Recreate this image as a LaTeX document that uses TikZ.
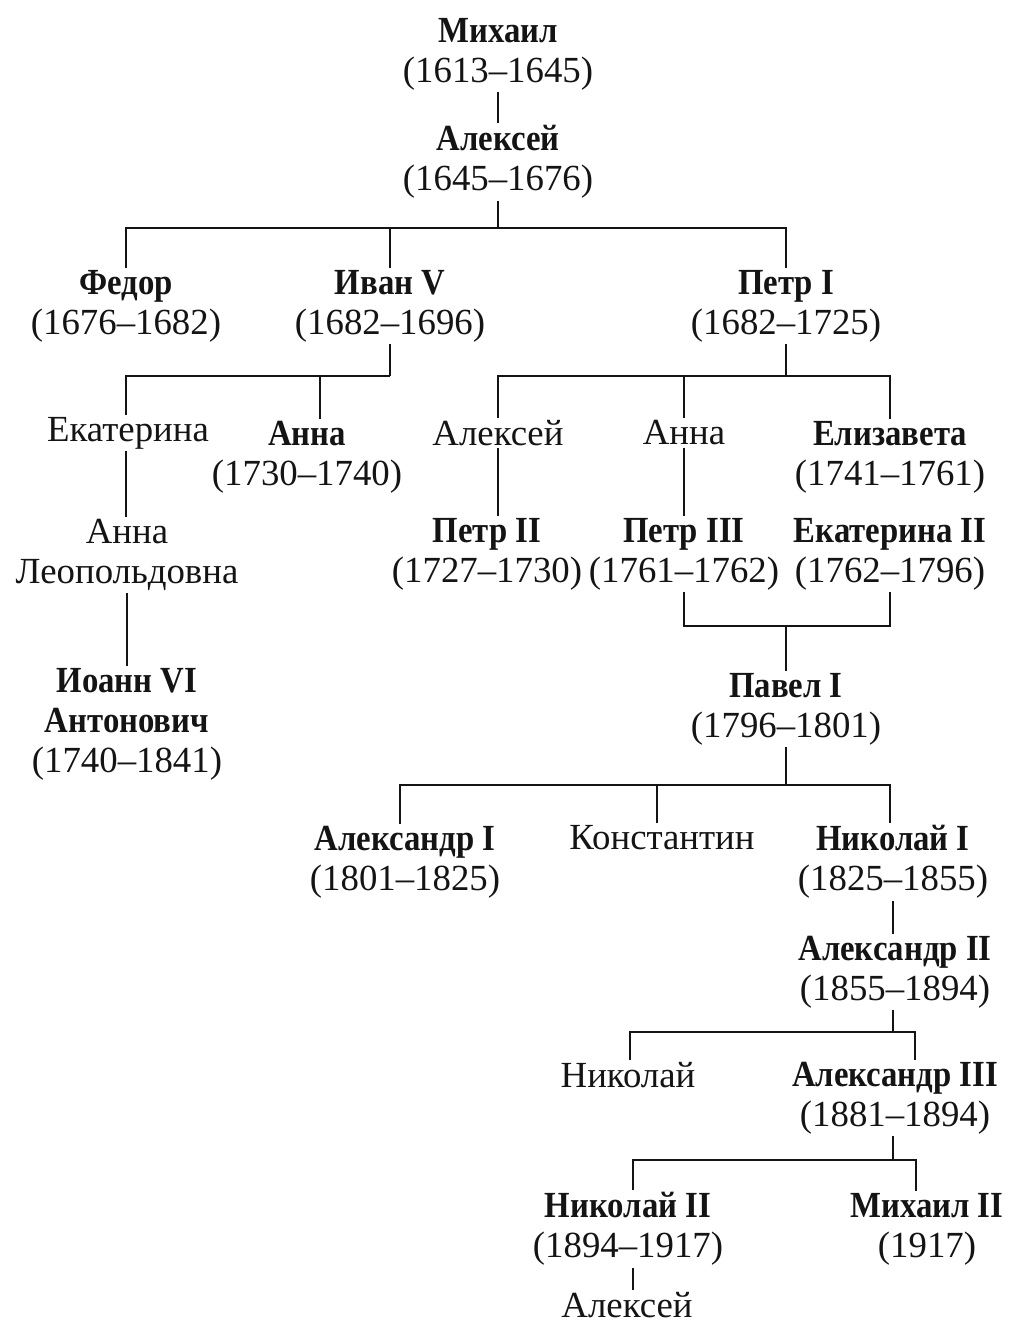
\documentclass[tikz,border=0pt]{standalone}
\usepackage{fontspec}
\setmainfont{Liberation Serif}[BoldFeatures={FakeStretch=0.89}]
\usetikzlibrary{positioning,calc}
\definecolor{ink}{RGB}{20,20,20}
\tikzset{
    royal/.style={
        align=center,inner sep=1pt,text=ink,
        font=\fontsize{18.4}{20}\selectfont
    },
    kin/.style={
        line width=0.9pt,draw=ink
    }
}
\begin{document}
\begin{tikzpicture}[x=0.5pt,y=-0.5pt]
\useasboundingbox (0,0) rectangle (1009,1323);

\node[royal] (mikhail) at (498,54) {\textbf{Михаил}\\(1613--1645)};
\node[royal] (aleksey) at (498,162) {\textbf{Алексей}\\(1645--1676)};

\node[royal] (fedor) at (126,306) {\textbf{Федор}\\(1676--1682)};
\node[royal] (ivan) at (390,306) {\textbf{Иван V}\\(1682--1696)};
\node[royal] (petrA) at (786,306) {\textbf{Петр I}\\(1682--1725)};

\node[royal] (ekaterina) at (128,433) {Екатерина};
\node[royal] (annaI) at (307,457) {\textbf{Анна}\\(1730--1740)};
\node[royal] (annaL) at (127,555) {Анна\\Леопольдовна};
\node[royal] (ioann) at (127,724) {\textbf{Иоанн VI}\\\textbf{Антонович}\\(1740--1841)};

\node[royal] (alekseyP) at (498,433) {Алексей};
\node[royal] (annaP) at (684,433) {Анна};
\node[royal] (elizaveta) at (890,457) {\textbf{Елизавета}\\(1741--1761)};

\node[royal] (petrB) at (487,554) {\textbf{Петр II}\\(1727--1730)};
\node[royal] (petrC) at (684,554) {\textbf{Петр III}\\(1761--1762)};
\node[royal] (ekaterinaB) at (890,554) {\textbf{Екатерина II}\\(1762--1796)};

\node[royal] (pavel) at (786,709) {\textbf{Павел I}\\(1796--1801)};

\node[royal] (aleksandrA) at (405,862) {\textbf{Александр I}\\(1801--1825)};
\node[royal] (konstantin) at (662,838) {Константин};
\node[royal] (nikolaiA) at (893,862) {\textbf{Николай I}\\(1825--1855)};

\node[royal] (aleksandrB) at (895,972) {\textbf{Александр II}\\(1855--1894)};

\node[royal] (nikolai) at (628,1075) {Николай};
\node[royal] (aleksandrC) at (895,1098) {\textbf{Александр III}\\(1881--1894)};

\node[royal] (nikolaiB) at (628,1229) {\textbf{Николай II}\\(1894--1917)};
\node[royal] (mikhailB) at (927,1229) {\textbf{Михаил II}\\(1917)};
\node[royal] (alekseyN) at (627,1305) {Алексей};

\coordinate (forkA) at (498,228);
\coordinate (forkB) at (390,376);
\coordinate (forkC) at (786,376);
\coordinate (forkD) at (786,626);
\coordinate (forkE) at (786,785);
\coordinate (forkF) at (893,1032);
\coordinate (forkG) at (893,1160);

\draw[kin] (mikhail) -- (aleksey);
\draw[kin] (aleksey) -- (forkA);
\draw[kin] (fedor.north) |- (forkA) -| (petrA.north);
\draw[kin] (ivan.north) -- (ivan.north |- forkA);

\draw[kin] (ivan.south) -- (forkB);
\draw[kin] ([xshift=-1pt]ekaterina.north) |- (forkB);
\draw[kin] ([xshift=6.5pt]annaI.north) -- ([xshift=6.5pt]annaI.north |- forkB);
\draw[kin] ([xshift=-1pt]ekaterina.south) -- ([xshift=-1pt]ekaterina.south |- annaL.north);
\draw[kin] (annaL.south) -- (annaL.south |- ioann.north);

\draw[kin] (petrA.south) -- (forkC);
\draw[kin] (alekseyP.north) |- (forkC) -| (elizaveta.north);
\draw[kin] (annaP.north) -- (annaP.north |- forkC);
\draw[kin] (alekseyP.south) -- (alekseyP.south |- petrB.north);
\draw[kin] (annaP) -- (petrC);

\draw[kin] (petrC.south) |- (forkD) -| (ekaterinaB.south);
\draw[kin] (forkD) -- (pavel);

\draw[kin] (pavel) -- (forkE);
\draw[kin] ([xshift=-2.5pt]aleksandrA.north) |- (forkE) -| ([xshift=-1.5pt]nikolaiA.north);
\draw[kin] ([xshift=-2.5pt]konstantin.north) -- ([xshift=-2.5pt]konstantin.north |- forkE);

\draw[kin] (nikolaiA.south) -- (nikolaiA.south |- aleksandrB.north);
\draw[kin] (aleksandrB.south -| forkF) -- (forkF);
\draw[kin] ([xshift=1pt]nikolai.north) |- ([xshift=10pt]aleksandrC.north |- forkF) -- ([xshift=10pt]aleksandrC.north);

\draw[kin] (aleksandrC.south -| forkG) -- (forkG);
\draw[kin] ([xshift=2.5pt]nikolaiB.north) |- (forkG) -| ([xshift=-5.5pt]mikhailB.north);
\draw[kin] ([xshift=2.5pt]nikolaiB.south) -- ([xshift=2.5pt]nikolaiB.south |- alekseyN.north);

\end{tikzpicture}
\end{document}
